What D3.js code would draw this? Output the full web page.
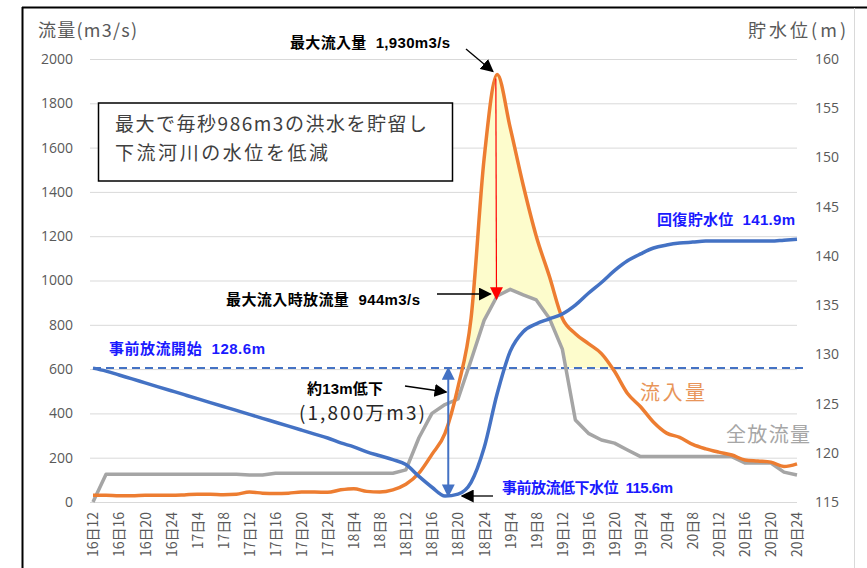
<!DOCTYPE html>
<html>
<head>
<meta charset="utf-8">
<script src="https://cdn.jsdelivr.net/npm/d3@7"></script>
<style>
  body { margin: 0; background: #fff; }
  svg { display: block; }
  text { white-space: pre; }
</style>
</head>
<body>
<div id="chart"></div>
<script>
// hourly steps (every 2h) from 16日12 to 20日24
const hours = d3.range(0, 109, 2);

const inflow = [
  30, 30, 28, 28, 30, 30, 30, 32, 35, 35, 33, 35,
  45, 40, 38, 40, 45, 45, 44, 55, 60, 48, 45, 55,
  80, 130, 215, 310, 520, 830, 1550, 1930, 1690, 1430, 1200, 1020,
  830, 760, 715, 670, 590, 490, 430, 360, 311, 292, 260, 240,
  225, 212, 190, 185, 180, 160, 172
];

const outflow = [
  0, 125, 125, 125, 125, 125, 125, 125, 125, 125, 125, 125,
  122, 122, 130, 130, 130, 130, 130, 130, 130, 130, 130, 130,
  145, 290, 400, 440, 465, 640, 820, 930, 960, 935, 912, 830,
  690, 370, 310, 280, 266, 235, 205, 205, 205, 205, 205, 205,
  205, 205, 176, 176, 176, 135, 122
];

const level = [
  128.6, 128.3, 127.9, 127.5, 127.1, 126.7, 126.3, 125.9, 125.5, 125.1, 124.7, 124.3,
  123.9, 123.5, 123.1, 122.7, 122.3, 121.9, 121.5, 121.0, 120.6, 120.1, 119.7, 119.3,
  118.8, 117.6, 116.5, 115.6, 115.8, 117.0, 120.5, 126.0, 130.3, 132.3, 133.1, 133.6,
  134.1, 135.0, 136.2, 137.3, 138.5, 139.5, 140.2, 140.8, 141.1, 141.3, 141.4, 141.5,
  141.5, 141.5, 141.5, 141.5, 141.5, 141.6, 141.7
];

const tickHours = d3.range(0, 109, 4);
const tickLabels = [
  "16日12", "16日16", "16日20", "16日24",
  "17日4", "17日8", "17日12", "17日16", "17日20", "17日24",
  "18日4", "18日8", "18日12", "18日16", "18日20", "18日24",
  "19日4", "19日8", "19日12", "19日16", "19日20", "19日24",
  "20日4", "20日8", "20日12", "20日16", "20日20", "20日24"
];

const flowTicks = d3.range(0, 2001, 200);
const levelTicks = [115, 120, 125, 130, 135, 140, 145, 150, 155, 160];

// key values for the annotations
const startLevel = 128.6;
const lowLevel = 115.6;
const peakIn = { hour: 61.8, value: 1930 };
const peakOut = { hour: 61.9, value: 944 };
const lowHour = 54.5;

const W = 867, H = 568;
const margin = { left: 93, right: 797, top: 59, bottom: 502 };

const svg = d3.select("#chart").append("svg")
  .attr("width", W)
  .attr("height", H);

const defs = svg.append("defs");
function marker(id, color, size) {
  defs.append("marker")
    .attr("id", id)
    .attr("viewBox", "0 0 10 10")
    .attr("refX", 9)
    .attr("refY", 5)
    .attr("markerWidth", size)
    .attr("markerHeight", size)
    .attr("markerUnits", "userSpaceOnUse")
    .attr("orient", "auto-start-reverse")
    .append("path")
    .attr("d", "M0,0 L10,5 L0,10 Z")
    .attr("fill", color);
}
marker("arrBlack", "#000", 13);
marker("arrRed", "#ff0000", 13);
marker("arrBlue", "#4472c4", 13);

const x = d3.scaleLinear().domain([0, 108]).range([margin.left, margin.right]);
const yFlow = d3.scaleLinear().domain([0, 2000]).range([margin.bottom, margin.top]);
const yLevel = d3.scaleLinear().domain([115, 160]).range([margin.bottom, margin.top]);

// frame
svg.append("line").attr("x1", 22).attr("x2", W).attr("y1", 7.5).attr("y2", 7.5)
  .attr("stroke", "#000").attr("stroke-width", 2);
svg.append("line").attr("x1", 22.5).attr("x2", 22.5).attr("y1", 7).attr("y2", H)
  .attr("stroke", "#000").attr("stroke-width", 2);
svg.append("line").attr("x1", 854.5).attr("x2", 854.5).attr("y1", 8).attr("y2", H)
  .attr("stroke", "#d9d9d9").attr("stroke-width", 1);

const axisFont = "'Noto Sans CJK JP', 'Noto Sans', sans-serif";
const boldFont = "'Liberation Sans', 'Noto Sans CJK JP', sans-serif";

// gridlines
svg.append("g")
  .attr("transform", `translate(${margin.left - 3},0)`)
  .call(d3.axisLeft(yFlow).tickValues(flowTicks).tickSize(-(margin.right - margin.left + 3)).tickFormat(""))
  .call(g => g.select(".domain").remove())
  .call(g => g.selectAll("line").attr("stroke", "#d9d9d9").attr("stroke-width", 1));

// left axis
svg.append("g")
  .attr("transform", `translate(${margin.left - 3},0)`)
  .call(d3.axisLeft(yFlow).tickValues(flowTicks).tickSize(0).tickPadding(17).tickFormat(d3.format("d")))
  .call(g => g.select(".domain").remove())
  .call(g => g.selectAll("text")
    .style("font-family", "'Open Sans', 'Noto Sans', sans-serif")
    .style("font-size", "14px")
    .attr("fill", "#595959"));

// right axis
svg.append("g")
  .attr("transform", `translate(${margin.right},0)`)
  .call(d3.axisRight(yLevel).tickValues(levelTicks).tickSize(0).tickPadding(18))
  .call(g => g.select(".domain").remove())
  .call(g => g.selectAll("text")
    .style("font-family", "'Open Sans', 'Noto Sans', sans-serif")
    .style("font-size", "14px")
    .attr("fill", "#595959"));

// x axis
svg.append("g")
  .attr("transform", `translate(0,${margin.bottom})`)
  .call(d3.axisBottom(x).tickValues(tickHours).tickSize(0)
    .tickFormat((d, i) => tickLabels[i]))
  .call(g => g.select(".domain").remove())
  .call(g => g.selectAll("text")
    .attr("transform", "rotate(-90)")
    .attr("x", -10)
    .attr("y", 0)
    .attr("dy", "0.35em")
    .style("text-anchor", "end")
    .style("font-family", axisFont)
    .style("font-size", "14px")
    .attr("fill", "#595959"));

// labels
function label(tx, ty, str, opts) {
  const t = svg.append("text")
    .attr("x", tx).attr("y", ty)
    .style("font-family", opts.font || boldFont)
    .style("font-size", (opts.size || 15) + "px")
    .style("font-weight", opts.weight || "bold")
    .attr("fill", opts.color || "#000")
    .text(str);
  if (opts.len) t.attr("textLength", opts.len).attr("lengthAdjust", "spacing");
  return t;
}

// axis titles
label(38, 37, "流量(m3/s)", { font: axisFont, size: 18, weight: "normal", color: "#595959", len: 99 });
label(748, 37, "貯水位(m)", { font: axisFont, size: 18, weight: "normal", color: "#595959", len: 98 });

// yellow storage area, only above the pre-release level
const yDash = yLevel(startLevel);
defs.append("clipPath").attr("id", "aboveDash")
  .append("rect").attr("x", 0).attr("y", 0).attr("width", W).attr("height", yDash);

svg.append("path")
  .datum(hours)
  .attr("clip-path", "url(#aboveDash)")
  .attr("fill", "#fdfccc")
  .attr("d", d3.area()
    .x((d, i) => x(d))
    .y0((d, i) => yFlow(outflow[i]))
    .y1((d, i) => yFlow(inflow[i]))
    .curve(d3.curveMonotoneX));

// dashed pre-release level
svg.append("line")
  .attr("x1", x(0)).attr("x2", 808)
  .attr("y1", yDash).attr("y2", yDash)
  .attr("stroke", "#4472c4").attr("stroke-width", 2)
  .attr("stroke-dasharray", "8,5");

// series lines
svg.append("path")
  .datum(hours)
  .attr("fill", "none")
  .attr("stroke", "#a5a5a5")
  .attr("stroke-width", 3.5)
  .attr("stroke-linejoin", "round")
  .attr("d", d3.line().x(d => x(d)).y((d, i) => yFlow(outflow[i])));

svg.append("path")
  .datum(hours)
  .attr("fill", "none")
  .attr("stroke", "#ed7d31")
  .attr("stroke-width", 3.5)
  .attr("stroke-linejoin", "round")
  .attr("d", d3.line().x(d => x(d)).y((d, i) => yFlow(inflow[i])).curve(d3.curveMonotoneX));

svg.append("path")
  .datum(hours)
  .attr("fill", "none")
  .attr("stroke", "#4472c4")
  .attr("stroke-width", 3.5)
  .attr("stroke-linejoin", "round")
  .attr("d", d3.line().x(d => x(d)).y((d, i) => yLevel(level[i])).curve(d3.curveMonotoneX));

// red arrow peak inflow -> outflow
svg.append("line")
  .attr("x1", x(peakIn.hour)).attr("y1", yFlow(peakIn.value) + 4)
  .attr("x2", x(peakOut.hour)).attr("y2", yFlow(peakOut.value) + 6)
  .attr("stroke", "#ff0000").attr("stroke-width", 1.2)
  .attr("marker-end", "url(#arrRed)");

// blue double arrow (drawdown)
svg.append("line")
  .attr("x1", x(lowHour)).attr("x2", x(lowHour))
  .attr("y1", yLevel(startLevel)).attr("y2", yLevel(lowLevel))
  .attr("stroke", "#4472c4").attr("stroke-width", 2)
  .attr("marker-start", "url(#arrBlue)")
  .attr("marker-end", "url(#arrBlue)");

// black arrows
function arrow(x1, y1, x2, y2) {
  svg.append("line")
    .attr("x1", x1).attr("y1", y1).attr("x2", x2).attr("y2", y2)
    .attr("stroke", "#000").attr("stroke-width", 1.3)
    .attr("marker-end", "url(#arrBlack)");
}
arrow(466, 49, x(peakIn.hour) - 3, yFlow(peakIn.value) - 3);
arrow(437, 294, x(peakOut.hour) - 6, 294);
arrow(405, 386, x(lowHour) - 2, 392);
arrow(493, 496, 462, 496);

// annotations
label(290, 48, "最大流入量  1,930m3/s", { len: 160 });
label(226, 305, "最大流入時放流量  944m3/s", { len: 194 });
label(109, 354, "事前放流開始  128.6m", { color: "#1a1aff", len: 156 });
label(307, 394, "約13m低下", { len: 76 });
label(299, 420, "(1,800万m3)", { font: axisFont, size: 19, weight: "normal", color: "#262626", len: 126 });
label(502, 493, "事前放流低下水位  115.6m", { color: "#1a1aff", len: 171 });
label(657, 225, "回復貯水位  141.9m", { color: "#1a1aff", len: 138 });
label(640, 400, "流入量", { font: axisFont, size: 20, weight: "normal", color: "#e8955a", len: 65 });
label(726, 442, "全放流量", { font: axisFont, size: 20, weight: "normal", color: "#a6a6a6", len: 84 });

// text box
svg.append("rect")
  .attr("x", 98.5).attr("y", 103).attr("width", 354).attr("height", 78)
  .attr("fill", "#fff").attr("stroke", "#000").attr("stroke-width", 1.5);
label(115, 131, "最大で毎秒986m3の洪水を貯留し", { font: axisFont, size: 19, weight: "normal", color: "#404040", len: 312 });
label(115, 160, "下流河川の水位を低減", { font: axisFont, size: 19, weight: "normal", color: "#404040", len: 213 });
</script>
</body>
</html>
